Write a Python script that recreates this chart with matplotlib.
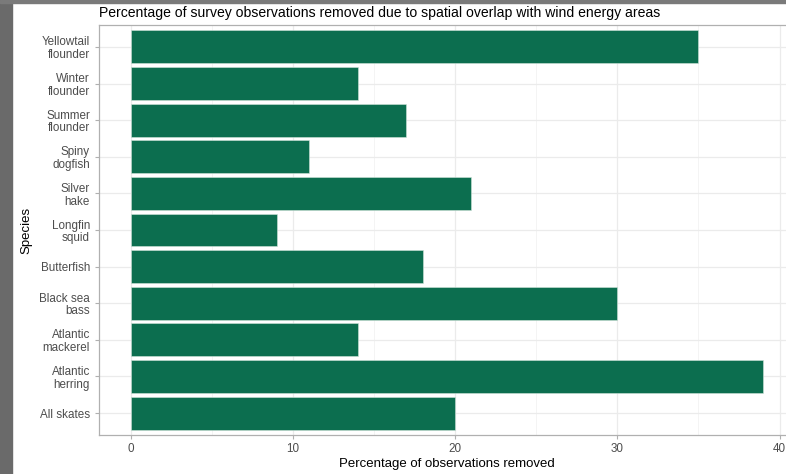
import matplotlib
matplotlib.use("Agg")
import matplotlib.pyplot as plt
from matplotlib.patches import Rectangle
from matplotlib.ticker import MultipleLocator

species = ["Yellowtail\nflounder", "Winter\nflounder", "Summer\nflounder", "Spiny\ndogfish",
           "Silver\nhake", "Longfin\nsquid", "Butterfish", "Black sea\nbass",
           "Atlantic\nmackerel", "Atlantic\nherring", "All skates"]
pct_removed = [35, 14, 17, 11, 21, 9, 18, 30, 14, 39, 20]
x_ticks = [0, 10, 20, 30, 40]

plt.rcParams['font.family'] = ['Liberation Sans', 'DejaVu Sans']

W, H = 786, 474
fig = plt.figure(figsize=(W / 100, H / 100), dpi=100)
fig.patch.set_facecolor('white')

# screenshot frame strips
fig.add_artist(Rectangle((0, 0), 12 / W, 1, transform=fig.transFigure, color='#6a6a6a', zorder=0))
fig.add_artist(Rectangle((0, 1 - 3 / H), 1, 3 / H, transform=fig.transFigure, color='#7a7a7a', zorder=0))

left, right, top, bottom = 99, 795, 25, 435
ax = fig.add_axes([left / W, 1 - bottom / H, (right - left) / W, (bottom - top) / H])

n = len(species)
ypos = list(range(n))[::-1]
ax.barh(ypos, pct_removed, height=0.9, color='#0c6e4f', edgecolor='#cfe3da', linewidth=0.4, zorder=3)

ax.set_xlim(-1.95, 40.95)
ax.set_ylim(-0.6, n - 0.4)
ax.set_yticks(ypos)
ax.set_yticklabels(species, linespacing=1.08)
ax.set_xticks(x_ticks)
ax.xaxis.set_minor_locator(MultipleLocator(5))

ax.grid(True, which='major', color='#ebebeb', linewidth=0.9, zorder=0)
ax.grid(True, which='minor', axis='x', color='#f2f2f2', linewidth=0.6, zorder=0)
ax.set_axisbelow(True)
ax.tick_params(axis='both', which='major', colors='#b0b0b0', labelcolor='#4d4d4d',
               labelsize=8.4, length=3, width=0.8)
ax.tick_params(axis='x', which='major', pad=2.5)
ax.tick_params(axis='x', which='minor', length=0)
for s in ax.spines.values():
    s.set_color('#b0b0b0')
    s.set_linewidth(0.9)

ax.set_xlabel("Percentage of observations removed", fontsize=9.5, color='black', labelpad=2.5)
ax.set_ylabel("Species", fontsize=9.5, color='black', labelpad=5)
fig.text(left / W, 1 - 13 / H, "Percentage of survey observations removed due to spatial overlap with wind energy areas",
         fontsize=10.1, ha='left', va='center', color='black')

fig.savefig("out.png", dpi=100)
